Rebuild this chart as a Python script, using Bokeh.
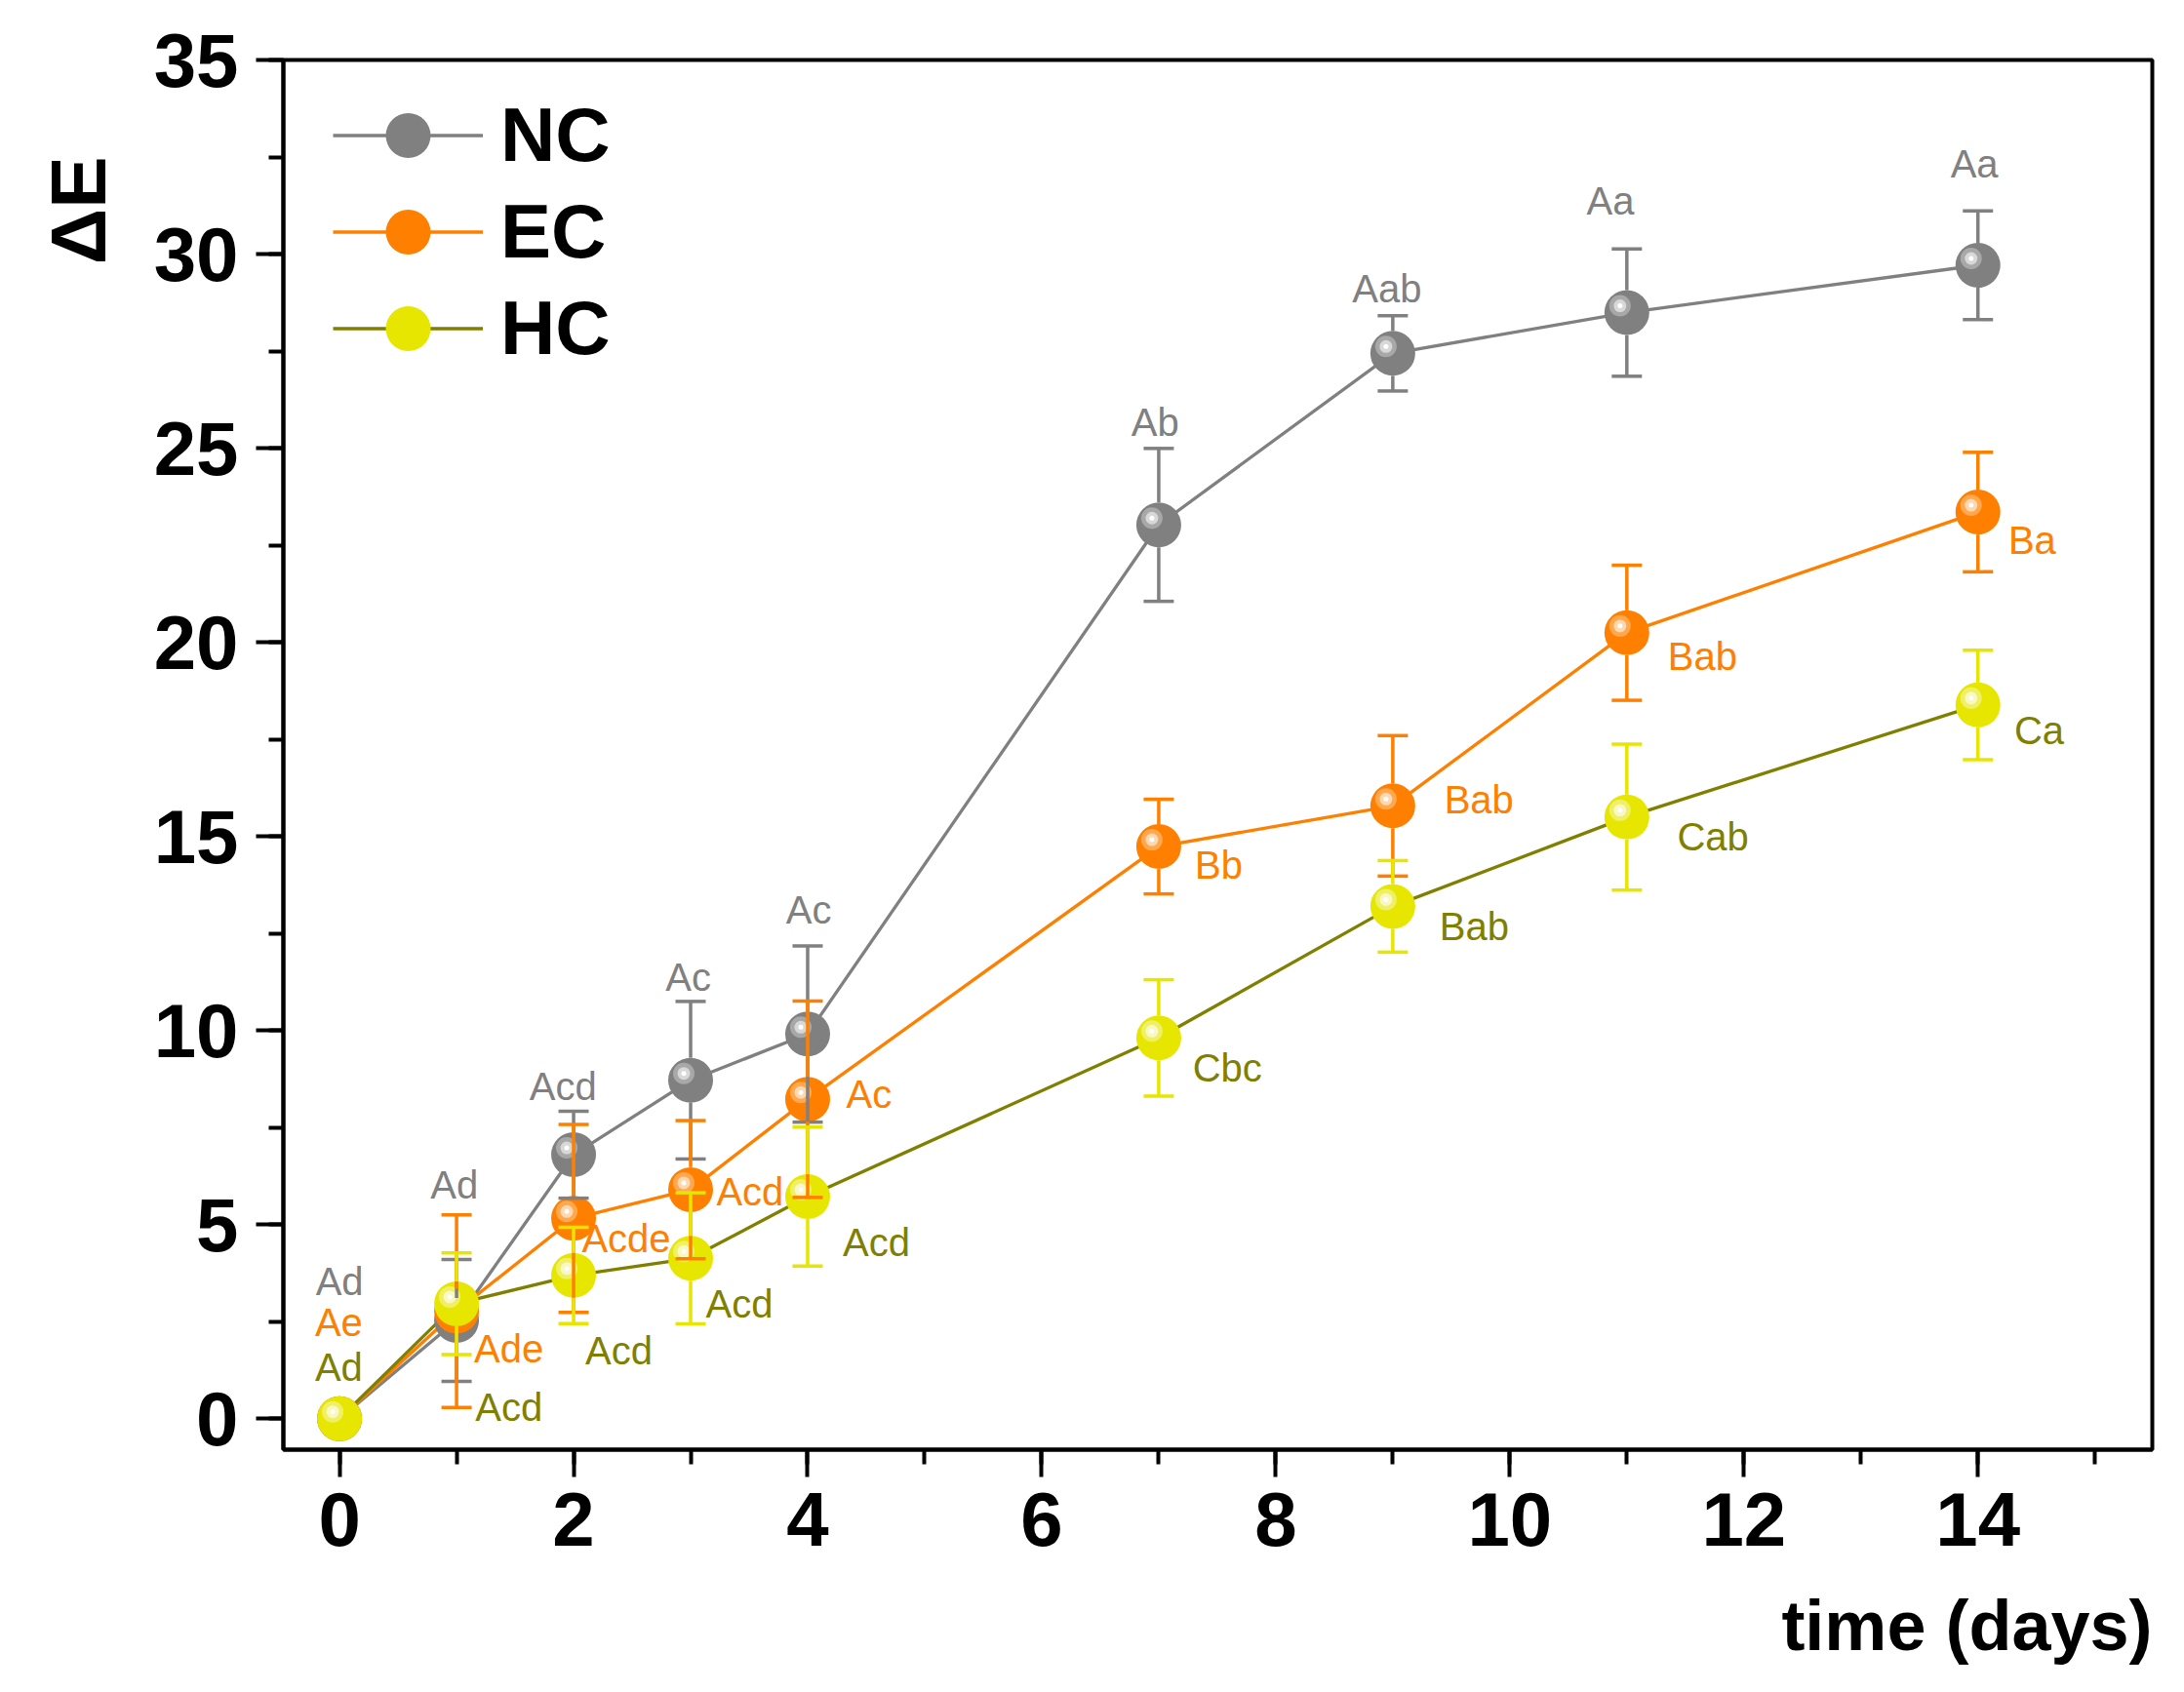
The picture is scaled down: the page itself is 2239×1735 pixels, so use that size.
import numpy as np
from bokeh.plotting import figure
from bokeh.models import Legend, LegendItem, SingleIntervalTicker, Title
from bokeh.core.properties import value
from bokeh.embed import file_html
from bokeh.resources import INLINE

# storage time (days)
days = [0, 1, 2, 3, 4, 7, 9, 11, 14]

# colour difference (mean and SD) per coating
nc_mean = [0, 2.53, 6.80, 8.72, 9.91, 23.03, 27.45, 28.50, 29.72]
nc_sd = [0, 1.57, 1.12, 2.03, 2.27, 1.97, 0.97, 1.64, 1.40]
ec_mean = [0, 2.77, 5.16, 5.90, 8.23, 14.74, 15.79, 20.25, 23.36]
ec_sd = [0, 2.48, 2.42, 1.78, 2.53, 1.22, 1.81, 1.74, 1.54]
hc_mean = [0, 2.96, 3.69, 4.13, 5.72, 9.81, 13.20, 15.50, 18.39]
hc_sd = [0, 1.31, 1.24, 1.69, 1.79, 1.50, 1.18, 1.88, 1.41]

# significance letters and where they sit
nc_letters = ["Ad", "Ad", "Acd", "Ac", "Ac", "Ab", "Aab", "Aa", "Aa"]
ec_letters = ["Ae", "Ade", "Acde", "Acd", "Ac", "Bb", "Bab", "Bab", "Ba"]
hc_letters = ["Ad", "Acd", "Acd", "Acd", "Acd", "Cbc", "Bab", "Cab", "Ca"]
nc_lab_x = [0.0, 0.98, 1.91, 2.98, 4.01, 6.97, 8.95, 10.86, 13.97]
nc_lab_y = [3.19, 5.68, 8.2, 11.03, 12.75, 25.33, 28.77, 31.03, 31.99]
ec_lab_x = [-0.21, 1.15, 2.07, 3.22, 4.33, 7.31, 9.44, 11.35, 14.26]
ec_lab_y = [2.14, 1.44, 4.3, 5.5, 8.0, 13.92, 15.59, 19.30, 22.27]
hc_lab_x = [-0.21, 1.16, 2.1, 3.13, 4.3, 7.29, 9.4, 11.43, 14.31]
hc_lab_y = [0.98, -0.05, 1.41, 2.61, 4.2, 8.69, 12.33, 14.63, 17.37]

FONT = "Liberation Sans"
FW, FH = 1916, 1425
X0, X1 = -0.48, 15.49
Y0, Y1 = -0.8, 35.01
ppx = FW / (X1 - X0)
ppy = FH / (Y1 - Y0)

p = figure(frame_width=FW, frame_height=FH, x_range=(X0, X1), y_range=(Y0, Y1),
           output_backend="svg", toolbar_location=None,
           min_border_left=290, min_border_right=17, min_border_top=61, min_border_bottom=233)
p.xgrid.grid_line_color = None
p.ygrid.grid_line_color = None
p.outline_line_color = "black"
p.outline_line_width = 4
p.background_fill_color = "white"
p.border_fill_color = "white"

p.xaxis.ticker = SingleIntervalTicker(interval=2, num_minor_ticks=2)
p.yaxis.ticker = SingleIntervalTicker(interval=5, num_minor_ticks=2)
for ax in (p.xaxis[0], p.yaxis[0]):
    ax.axis_line_width = 4
    ax.axis_line_color = "black"
    ax.major_tick_line_width = 4
    ax.minor_tick_line_width = 4
    ax.major_tick_line_color = "black"
    ax.minor_tick_line_color = "black"
    ax.major_tick_out = 28
    ax.major_tick_in = 0
    ax.minor_tick_out = 15
    ax.minor_tick_in = 0
    ax.major_label_text_font = FONT
    ax.major_label_text_font_style = "bold"
    ax.major_label_text_font_size = "78px"
    ax.major_label_text_color = "black"
p.xaxis.major_label_standoff = 16
p.yaxis.major_label_standoff = 18

# axis titles: x title flush right under the axis, y title near the top
p.add_layout(Title(text="time (days)", align="right", standoff=75, text_font=FONT,
                   text_font_style="bold", text_font_size="72px", text_color="black"), "below")
p.add_layout(Title(text="ΔE", align="right", offset=99, standoff=55, vertical_align="top",
                   text_font=FONT, text_font_style="bold", text_font_size="80px",
                   text_color="black"), "left")

series = [
    ("NC", nc_mean, nc_sd, nc_letters, nc_lab_x, nc_lab_y, "center",
     "#808080", "#808080", "#808080", "#808080", "#a8a8a8", "#d8d8d8"),
    ("EC", ec_mean, ec_sd, ec_letters, ec_lab_x, ec_lab_y, "left",
     "#ff8000", "#ff8000", "#ff8000", "#ff8000", "#ffa850", "#ffd8b0"),
    ("HC", hc_mean, hc_sd, hc_letters, hc_lab_x, hc_lab_y, "left",
     "#808000", "#e6e600", "#e6e600", "#808000", "#f0f066", "#f8f8c0"),
]

d = np.array(days, dtype=float)
lines = {}
markers = {}

# connecting lines underneath everything
for s in series:
    lines[s[0]] = p.line(days, s[1], line_color=s[7], line_width=3.3)

# shaded balls
for name, mean, sd, letters, lx, ly, align, line_col, mark_col, err_col, txt_col, hl1, hl2 in series:
    markers[name] = p.scatter(days, mean, size=46, fill_color=mark_col, line_color=None)
    hx = d - 7 / ppx
    hy = np.array(mean) + 7 / ppy
    p.scatter(hx, hy, size=22, fill_color=hl1, line_color=None)
    p.scatter(hx, hy, size=13, fill_color=hl2, line_color=None)
    p.scatter(hx, hy, size=5, fill_color="white", line_color=None)

# error bars start at the ball's edge and lie above all balls
gap = 23 / ppy
for name, mean, sd, letters, lx, ly, align, line_col, mark_col, err_col, txt_col, hl1, hl2 in series:
    m = np.array(mean)
    s = np.array(sd)
    k = s > gap
    p.segment(d[k], m[k] + gap, d[k], m[k] + s[k], line_color=err_col, line_width=3.5)
    p.segment(d[k], m[k] - gap, d[k], m[k] - s[k], line_color=err_col, line_width=3.5)
    p.scatter(d[k], m[k] + s[k], marker="dash", size=31, line_color=err_col, line_width=3.5)
    p.scatter(d[k], m[k] - s[k], marker="dash", size=31, line_color=err_col, line_width=3.5)

for name, mean, sd, letters, lx, ly, align, line_col, mark_col, err_col, txt_col, hl1, hl2 in series:
    p.text(x=lx, y=ly, text=letters, text_font=value(FONT), text_font_size="40px",
           text_color=txt_col, text_align=align, text_baseline="alphabetic", y_offset=-14)

# one legend per entry so the rows can sit closer than the ball height
for n, vy in (("NC", 1290), ("EC", 1191), ("HC", 1092)):
    leg = Legend(items=[LegendItem(label=n, renderers=[lines[n], markers[n]])],
                 location=(51, vy), glyph_width=154, glyph_height=115,
                 padding=0, margin=0, label_standoff=18,
                 label_text_font=FONT, label_text_font_style="bold", label_text_font_size="78px",
                 label_text_color="black", border_line_color=None, background_fill_alpha=0)
    p.add_layout(leg)

open("out.html", "w").write(file_html(p, INLINE))
